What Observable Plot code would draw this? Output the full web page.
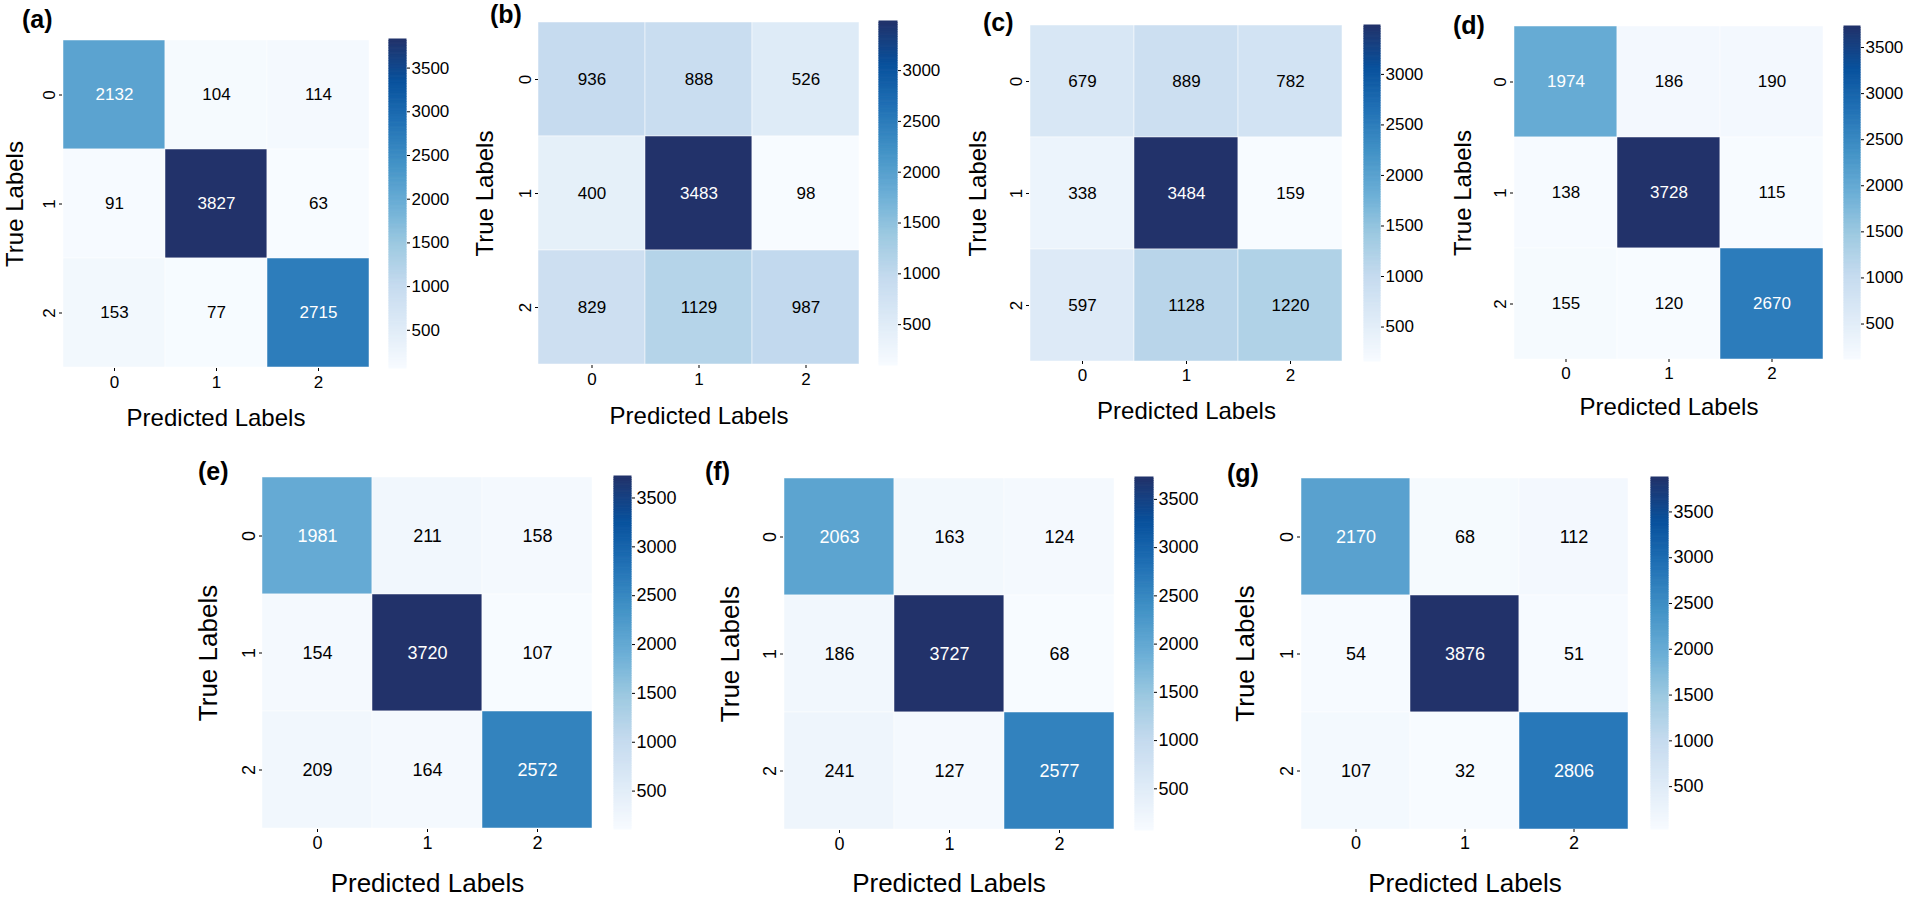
<!DOCTYPE html>
<html><head><meta charset="utf-8">
<script src="https://cdn.jsdelivr.net/npm/d3@7"></script>
<script src="https://cdn.jsdelivr.net/npm/@observablehq/plot@0.6"></script>
<style>
body{margin:0;background:#fff;}
#fig{position:relative;width:1905px;height:897px;overflow:hidden;font-family:"Liberation Sans",Arial,sans-serif;}
#fig svg{position:absolute;overflow:visible;max-width:none;}
.letter{position:absolute;font-weight:bold;line-height:1;white-space:nowrap;font-family:"Liberation Sans",Arial,sans-serif;}
</style></head><body><div id="fig"></div>
<script>
// ---- data ----
const classes = ["0", "1", "2"];
const panelLetters = ["(a)", "(b)", "(c)", "(d)", "(e)", "(f)", "(g)"];
const matrixA = [[2132, 104, 114], [91, 3827, 63], [153, 77, 2715]];
const matrixB = [[936, 888, 526], [400, 3483, 98], [829, 1129, 987]];
const matrixC = [[679, 889, 782], [338, 3484, 159], [597, 1128, 1220]];
const matrixD = [[1974, 186, 190], [138, 3728, 115], [155, 120, 2670]];
const matrixE = [[1981, 211, 158], [154, 3720, 107], [209, 164, 2572]];
const matrixF = [[2063, 163, 124], [186, 3727, 68], [241, 127, 2577]];
const matrixG = [[2170, 68, 112], [54, 3876, 51], [107, 32, 2806]];
const colorbarTicks = [500, 1000, 1500, 2000, 2500, 3000, 3500];
const xTitle = "Predicted Labels";
const yTitle = "True Labels";

const matrices = [matrixA, matrixB, matrixC, matrixD, matrixE, matrixF, matrixG];

// ---- layout (page px) ----
const layout = [
  {hm: [62, 39, 369, 368],    cb: [389, 406],   letter: [22, 28],   xOff: 57, yOff: 57, fs: 17, ts: 24},
  {hm: [538, 21, 859, 365],   cb: [879, 897],   letter: [490, 23],  xOff: 58, yOff: 63, fs: 17, ts: 24},
  {hm: [1029, 25, 1343, 361], cb: [1364, 1380], letter: [983, 31],  xOff: 57, yOff: 61, fs: 17, ts: 24},
  {hm: [1513, 26, 1824, 359], cb: [1844, 1860], letter: [1453, 34], xOff: 55, yOff: 60, fs: 17, ts: 24},
  {hm: [262, 476, 592, 829],  cb: [614, 631],   letter: [198, 480], xOff: 62, yOff: 64, fs: 18, ts: 26},
  {hm: [783, 477, 1114, 830], cb: [1135, 1153], letter: [705, 480], xOff: 61, yOff: 63, fs: 18, ts: 26},
  {hm: [1300, 477, 1629, 829],cb: [1651, 1668], letter: [1227, 482],xOff: 62, yOff: 65, fs: 18, ts: 26}
];

const bluesRamp = d3.schemeBlues[9].slice(0, 8).concat(["#22326a"]);
function colorOpts(lo, hi) {
  return {type: "linear", domain: bluesRamp.map((_, i) => lo + (hi - lo) * i / 8), range: bluesRamp, interpolate: "rgb"};
}
function lum(c) {
  const {r, g, b} = d3.rgb(c);
  const f = v => { v /= 255; return v <= 0.03928 ? v / 12.92 : Math.pow((v + 0.055) / 1.055, 2.4); };
  return 0.2126 * f(r) + 0.7152 * f(g) + 0.0722 * f(b);
}

const fig = document.getElementById("fig");
const FONT = '"Liberation Sans", Arial, sans-serif';

matrices.forEach((m, k) => {
  const L = layout[k];
  const cells = [];
  m.forEach((row, i) => row.forEach((v, j) => cells.push({t: classes[i], p: classes[j], value: v})));
  const lo = d3.min(cells, d => d.value), hi = d3.max(cells, d => d.value);
  const copts = colorOpts(lo, hi);
  const cscale = d3.scaleLinear().domain(copts.domain).range(copts.range).interpolate(d3.interpolateRgb);
  const isDark = d => lum(cscale(d.value)) <= 0.408;

  const [x1, y1, x2, y2] = L.hm;
  const mL = 80, mR = 4, mT = 4, mB = 80;
  const hm = Plot.plot({
    width: (x2 - x1) + mL + mR,
    height: (y2 - y1) + mT + mB,
    marginLeft: mL, marginRight: mR, marginTop: mT, marginBottom: mB,
    style: {background: "transparent", overflow: "visible", fontSize: L.fs + "px", fontFamily: FONT, color: "black"},
    x: {domain: classes, padding: 0, axis: null},
    y: {domain: classes, padding: 0, axis: null},
    color: copts,
    marks: [
      Plot.cell(cells, {x: "p", y: "t", fill: "value", stroke: "white", strokeWidth: 0.7, strokeOpacity: 0.7}),
      Plot.text(cells, {x: "p", y: "t", text: d => String(d.value), filter: d => !isDark(d), fill: "black", fontSize: L.fs}),
      Plot.text(cells, {x: "p", y: "t", text: d => String(d.value), filter: d => isDark(d), fill: "white", fontSize: L.fs}),
      Plot.axisX({anchor: "bottom", tickSize: 3, tickPadding: 4, fontSize: L.fs, label: null}),
      Plot.axisX({anchor: "bottom", ticks: [], tickSize: 0, label: xTitle, labelAnchor: "center", labelOffset: L.xOff, fontSize: L.ts}),
      Plot.axisY({anchor: "left", tickSize: 3, tickPadding: 5, tickRotate: -90, fontSize: L.fs, label: null}),
      Plot.axisY({anchor: "left", ticks: [], tickSize: 0, label: yTitle, labelAnchor: "center", labelOffset: L.yOff, fontSize: L.ts})
    ]
  });
  hm.style.left = (x1 - mL) + "px";
  hm.style.top = (y1 - mT) + "px";
  fig.appendChild(hm);

  // colorbar
  const [c1, c2] = L.cb;
  const N = 200;
  const slices = d3.range(N).map(i => ({lo: lo + (hi - lo) * i / N, hi: lo + (hi - lo) * (i + 1) / N, mid: lo + (hi - lo) * (i + 0.5) / N}));
  const cbR = 60;
  const cb = Plot.plot({
    width: (c2 - c1) + cbR,
    height: (y2 - y1) + mT + 4,
    marginLeft: 0, marginRight: cbR, marginTop: mT, marginBottom: 4,
    style: {background: "transparent", overflow: "visible", fontSize: L.fs + "px", fontFamily: FONT, color: "black"},
    y: {domain: [lo, hi], axis: null},
    color: copts,
    marks: [
      Plot.rect(slices, {y1: "lo", y2: "hi", fill: "mid", stroke: "mid", strokeWidth: 1}),
      Plot.axisY({anchor: "right", ticks: colorbarTicks.filter(t => t >= lo && t <= hi), tickSize: 3, tickPadding: 2, tickFormat: d => String(d), fontSize: L.fs, label: null})
    ]
  });
  cb.style.left = c1 + "px";
  cb.style.top = (y1 - mT) + "px";
  fig.appendChild(cb);

  // panel letter
  const lt = document.createElement("div");
  lt.className = "letter";
  lt.textContent = panelLetters[k];
  lt.style.fontSize = "25px";
  lt.style.left = L.letter[0] + "px";
  lt.style.top = (L.letter[1] - 21) + "px";
  fig.appendChild(lt);
});
</script></body></html>
